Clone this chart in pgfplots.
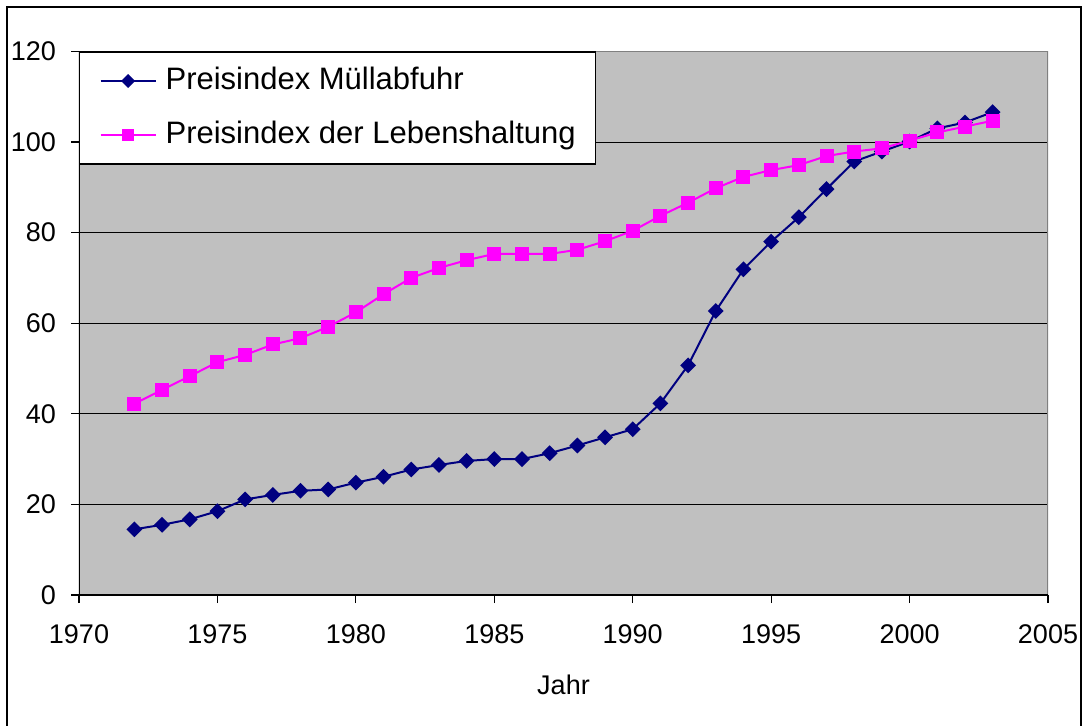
\documentclass[border=0pt]{standalone}
\usepackage{fontspec}
\setmainfont{Liberation Sans}
\usepackage{pgfplots}
\pgfplotsset{compat=1.18}
\definecolor{navyc}{HTML}{000080}
\definecolor{magc}{HTML}{FF00FF}
\definecolor{plotgray}{HTML}{C0C0C0}
\definecolor{bordergray}{HTML}{808080}
\begin{document}
\begin{tikzpicture}[x=1pt,y=1pt]
\useasboundingbox (0,0) rectangle (543,362.5);
\draw[black, line width=0.75pt] (3.5,-3) rectangle (540.5,359);
\begin{axis}[
  at={(39.5pt,65pt)}, anchor=south west,
  scale only axis, width=484.5pt, height=271.8pt,
  xmin=1970, xmax=2005, ymin=0, ymax=120,
  xtick={1970,1975,...,2005}, ytick={0,20,...,120},
  xtick pos=bottom, ytick pos=left,
  axis line style={draw=none},
  tick align=outside, major tick length=4pt,
  tick style={black, line width=0.6pt},
  ymajorgrids, grid style={black, line width=0.5pt},
  axis background/.style={fill=plotgray},
  /pgf/number format/assume math mode=true,
  /pgf/number format/1000 sep={},
  ticklabel style={font=\fontsize{13.5}{16}\selectfont},
  xticklabel shift=7.5pt, yticklabel shift=4pt,
  xlabel={Jahr}, xlabel style={font=\fontsize{13.5}{16}\selectfont, yshift=-8.5pt},
  legend cell align=left,
  legend image code/.code={\draw[mark repeat=2,mark phase=2,#1,every mark/.append style={scale=0.85}] plot coordinates {(0pt,0pt) (13.75pt,0pt) (27.5pt,0pt)};},
  legend style={at={(0,1)}, anchor=north west, draw=black, line width=0.6pt, fill=white,
    font=\fontsize{15.5}{18}\selectfont, inner xsep=10pt, inner ysep=7pt,
    row sep=12pt, column sep=4.5pt,
    nodes={inner sep=0pt, text height=11.5pt, text depth=3.5pt}},
]
\draw[bordergray, line width=0.8pt] (rel axis cs:0,1) -- (rel axis cs:1,1) -- (rel axis cs:1,0);
\draw[black, line width=0.6pt] (rel axis cs:0,1) -- (rel axis cs:0,0) -- (rel axis cs:1,0);
\addplot[navyc, line width=1pt, mark=square*, mark size=2.3pt,
  mark options={rotate=45, fill=navyc, draw=navyc, solid}] coordinates {
(1972,14.5) (1973,15.5) (1974,16.7) (1975,18.5) (1976,21.1) (1977,22.1)
(1978,23.0) (1979,23.3) (1980,24.8) (1981,26.1) (1982,27.7) (1983,28.7)
(1984,29.6) (1985,30.0) (1986,30.0) (1987,31.3) (1988,33.0) (1989,34.8)
(1990,36.6) (1991,42.3) (1992,50.7) (1993,62.7) (1994,71.9) (1995,78.0)
(1996,83.4) (1997,89.6) (1998,95.7) (1999,97.9) (2000,100.1) (2001,103.0)
(2002,104.3) (2003,106.6)
};
\addlegendentry{Preisindex Müllabfuhr}
\addplot[magc, line width=1pt, mark=square*, mark size=3pt,
  mark options={fill=magc, draw=magc, solid}] coordinates {
(1972,42.2) (1973,45.3) (1974,48.3) (1975,51.4) (1976,53.0) (1977,55.3)
(1978,56.7) (1979,59.2) (1980,62.4) (1981,66.4) (1982,70.0) (1983,72.2)
(1984,73.9) (1985,75.3) (1986,75.3) (1987,75.3) (1988,76.2) (1989,78.1)
(1990,80.4) (1991,83.7) (1992,86.6) (1993,89.8) (1994,92.3) (1995,93.8)
(1996,94.9) (1997,96.9) (1998,97.9) (1999,98.6) (2000,100.3) (2001,102.1)
(2002,103.4) (2003,104.7)
};
\addlegendentry{Preisindex der Lebenshaltung}
\end{axis}
\end{tikzpicture}
\end{document}
